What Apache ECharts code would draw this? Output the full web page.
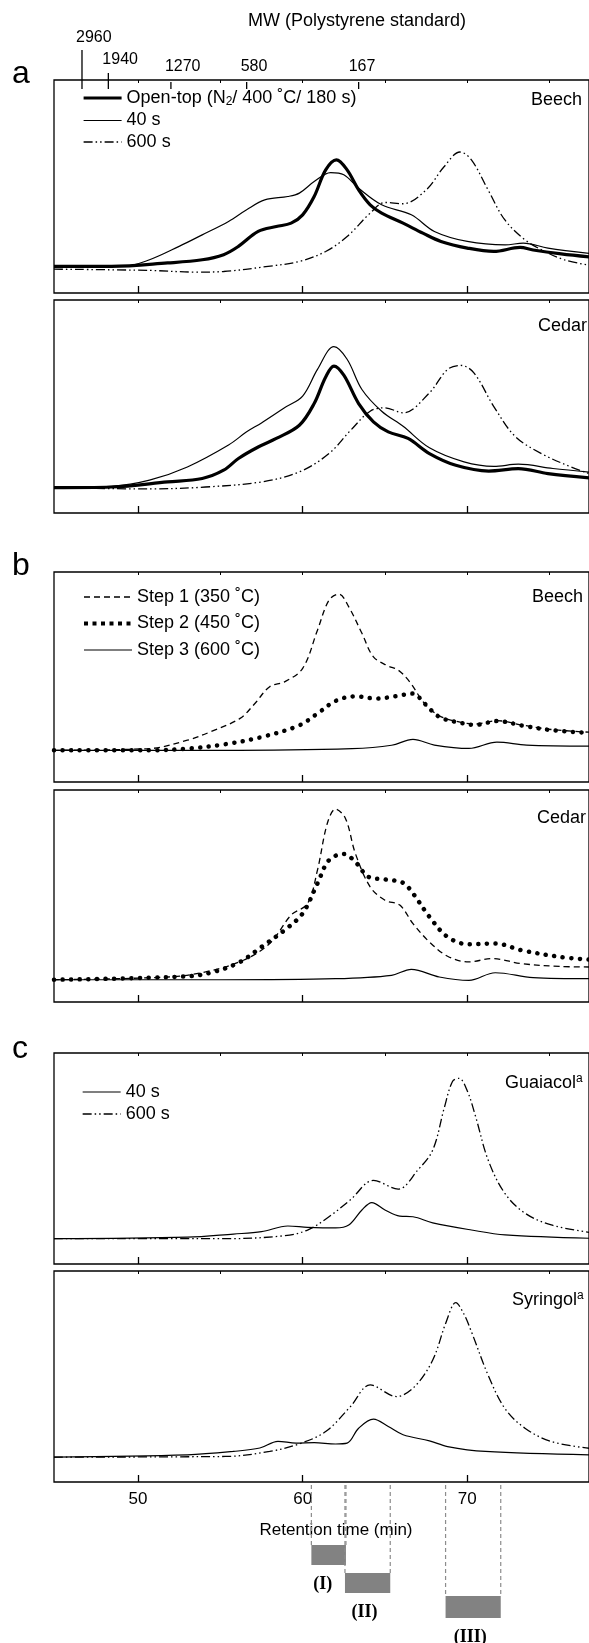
<!DOCTYPE html>
<html>
<head>
<meta charset="utf-8">
<script src="https://cdn.jsdelivr.net/npm/echarts@6/dist/echarts.min.js"></script>
<style>
  html, body { margin: 0; padding: 0; background: #fff; }
  #chart { width: 589px; height: 1643px; }
</style>
</head>
<body>
<div id="chart"></div>
<script>
// --- 1. Data (retention time in min, relative signal 0-100) ---

// top axis: MW calibration (polystyrene standard)
const mwLabels = ['2960', '1940', '1270', '580', '167'];
const mwTimes = [46.6, 48.2, 52.0, 56.6, 63.4];

// bottom axis ticks
const timeTicks = [50, 60, 70];
const minorTicks = [50, 55, 60, 65, 70, 75];

// (a) Beech
const aBeechOpen = [[44.9,12.5],[48.4,12.5],[51.8,14.1],[53.9,15.6],[55.2,18.0],[56.1,21.9],[57.3,28.9],[58.4,31.2],[59.3,32.8],[60.0,36.7],[60.7,45.3],[61.4,57.8],[62.05,62.5],[62.7,57.8],[63.4,48.4],[64.1,41.4],[64.8,37.5],[66.1,32.8],[67.3,28.1],[68.4,24.2],[70.0,21.1],[71.6,19.5],[73.2,21.4],[74.0,20.2],[75.7,18.4],[77.4,17.0]];
const aBeech40 = [[44.9,12.5],[49.1,12.5],[50.7,15.6],[52.5,21.9],[53.9,27.3],[55.5,33.6],[56.6,39.1],[57.7,43.7],[59.1,45.3],[59.8,46.9],[60.7,52.3],[61.7,56.5],[62.5,55.5],[63.4,49.2],[64.8,41.4],[66.6,36.7],[68.0,28.9],[70.0,24.2],[72.3,22.6],[73.4,23.4],[74.9,21.1],[77.4,18.6]];
const aBeech600 = [[44.9,11.2],[50.7,10.6],[53.6,9.8],[55.2,10.1],[57.9,12.5],[59.8,14.8],[61.4,19.5],[62.7,26.5],[64.1,37.5],[65.0,42.5],[66.1,41.9],[67.5,48.4],[68.6,59.4],[69.55,66.2],[70.25,62.5],[71.26,48.4],[72.27,34.4],[73.5,25.0],[74.7,19.5],[75.9,15.6],[77.4,13.0]];

// (a) Cedar
const aCedarOpen = [[44.9,11.9],[48.4,12.2],[51.8,14.6],[53.9,16.2],[55.2,20.1],[56.1,25.6],[57.3,31.0],[58.4,35.0],[59.8,41.2],[60.7,51.4],[61.4,63.9],[61.9,69.0],[62.5,64.7],[63.4,51.4],[64.3,42.8],[65.2,38.1],[66.4,35.0],[67.7,27.9],[69.3,22.4],[71.3,19.7],[73.1,20.8],[74.9,18.5],[77.4,16.5]];
const aCedar40 = [[44.9,11.9],[48.4,12.5],[50.7,15.4],[53.0,21.6],[55.5,31.9],[56.6,38.1],[57.5,42.3],[58.9,49.4],[60.0,54.9],[60.9,67.4],[61.9,78.1],[62.7,72.2],[63.6,58.0],[64.8,47.8],[66.1,40.7],[67.7,30.6],[69.8,24.0],[71.6,21.9],[73.1,22.9],[75.2,20.9],[77.4,19.2]];
const aCedar600 = [[44.9,11.9],[50.7,11.3],[54.1,12.2],[57.5,14.6],[59.8,19.3],[61.6,27.9],[62.9,38.7],[64.1,47.8],[65.0,49.4],[66.1,47.0],[67.7,56.4],[68.8,67.4],[69.6,69.3],[70.4,65.8],[71.6,50.1],[72.9,36.0],[74.5,27.9],[76.3,21.6],[77.4,18.5]];

// (b) Beech
const bBeechStep1 = [[44.9,15.1],[50.7,15.9],[53.0,19.9],[54.4,23.9],[56.2,30.3],[57.1,37.4],[58.0,45.4],[58.9,47.7],[60.0,54.1],[60.9,72.3],[61.6,86.6],[62.2,89.5],[62.8,83.4],[63.6,70.8],[64.3,59.6],[65.2,55.2],[65.8,53.3],[66.5,47.7],[67.4,37.4],[68.3,31.5],[69.5,28.6],[70.5,27.6],[71.8,29.2],[73.4,27.0],[75.1,25.0],[77.4,23.7]];
const bBeechStep2 = [[44.9,15.1],[50.7,15.1],[53.0,15.9],[55.3,18.0],[57.5,21.4],[59.8,27.0],[60.9,32.6],[62.0,38.6],[63.2,40.8],[64.5,39.7],[65.6,40.8],[66.7,42.1],[67.4,37.4],[68.3,31.0],[69.5,28.3],[70.5,27.2],[71.8,29.0],[73.4,26.8],[75.1,24.7],[77.4,23.4]];
const bBeechStep3 = [[44.9,15.1],[55.0,15.1],[63.0,15.9],[65.4,17.5],[66.7,20.3],[68.0,17.6],[70.1,16.0],[71.8,19.0],[73.6,17.6],[77.4,17.1]];

// (b) Cedar
const bCedarStep1 = [[44.9,10.5],[51.8,11.8],[54.1,14.2],[56.4,19.7],[58.0,27.6],[59.3,41.0],[60.3,46.5],[60.9,62.2],[61.5,84.3],[62.0,91.0],[62.6,86.6],[63.2,70.1],[64.1,54.3],[65.0,48.0],[65.9,45.7],[66.7,37.0],[67.7,28.3],[68.8,21.6],[70.1,18.9],[71.5,20.5],[73.3,18.1],[75.6,16.8],[77.4,16.5]];
const bCedarStep2 = [[44.9,10.5],[53.0,12.1],[54.6,14.2],[56.2,18.9],[57.5,26.0],[58.9,33.9],[60.0,41.8],[60.9,55.9],[61.6,66.9],[62.5,69.8],[63.2,66.1],[64.0,59.0],[65.0,57.8],[66.1,56.2],[66.7,51.2],[67.7,40.2],[68.8,30.7],[70.1,27.2],[71.7,27.6],[73.3,24.4],[75.6,21.3],[77.4,20.0]];
const bCedarStep3 = [[44.9,10.5],[55.0,10.5],[62.0,11.0],[65.4,12.6],[66.6,15.4],[68.3,11.8],[70.1,10.2],[71.7,13.8],[74.0,11.5],[77.4,11.0]];

// (c) Guaiacol
const cGuaiacol40 = [[44.9,12.0],[53.0,12.7],[55.8,14.2],[57.5,15.3],[59.1,18.0],[60.3,17.4],[62.0,17.1],[62.8,18.5],[63.6,25.6],[64.2,29.1],[65.0,25.6],[65.9,22.7],[66.7,22.4],[67.9,19.5],[70.25,16.1],[72.3,13.8],[77.4,12.2]];
const cGuaiacol600 = [[44.9,12.0],[55.3,12.0],[58.9,13.4],[60.3,16.1],[61.6,22.4],[62.9,30.4],[64.3,39.6],[65.8,35.5],[67.0,44.6],[67.9,54.0],[68.6,74.0],[69.1,86.5],[69.5,88.0],[70.0,82.0],[70.5,70.0],[71.26,49.4],[72.27,33.6],[73.5,24.1],[75.1,18.5],[77.4,15.0]];

// (c) Syringol
const cSyringol40 = [[44.9,11.8],[53.0,12.9],[55.8,14.5],[57.4,16.1],[58.5,19.3],[59.6,18.4],[60.7,18.7],[62.0,18.0],[62.7,18.4],[63.4,25.5],[64.3,29.8],[65.2,26.3],[66.1,22.4],[67.7,19.5],[68.8,16.8],[71.1,14.5],[77.4,12.9]];
const cSyringol600 = [[44.9,11.8],[55.3,12.1],[58.0,14.5],[59.8,18.1],[61.4,23.9],[62.9,35.7],[64.1,46.0],[65.7,40.5],[66.8,45.2],[67.9,57.8],[68.7,75.5],[69.3,85.0],[69.8,79.5],[70.25,71.2],[71.26,50.7],[72.27,35.0],[73.5,25.5],[75.1,19.2],[77.4,16.0]];

// fraction ranges under the time axis
const rangeNames = ['(I)', '(II)', '(III)'];
const rangeStart = [60.53, 62.57, 68.68];
const rangeEnd = [62.63, 65.32, 72.03];

// --- 2. Layout ---
const FONT = '"Liberation Sans", Arial, sans-serif';
const SERIF = '"Liberation Serif", "Times New Roman", serif';
const X_MIN = 44.9, X_MAX = 77.39;
const GRID_LEFT = 54, GRID_RIGHT = -2;
const panelTops = [80, 300, 572, 790, 1053, 1271];
const panelHeights = [213, 213, 210, 212, 211, 211];
const mwTickTop = [50, 73, 82, 82, 82];
const mwLabelY = [38, 60, 67, 67, 67];
const mwLabelDx = [-6, -6, -6, -6, -10];
const barOffset = [62, 90, 113];
const barHeight = [20, 20, 22];
const labelDx = [-6, -3, -3];

const OPEN = 'Open-top (N2/ 400 ˚C/ 180 s)';
const STEP1 = 'Step 1 (350 ˚C)', STEP2 = 'Step 2 (450 ˚C)', STEP3 = 'Step 3 (600 ˚C)';

const BOLD = { color: '#000', width: 3.2 };
const THIN = { color: '#000', width: 1.2 };
const DDOT = { color: '#000', width: 1.3, type: [9, 3, 1.5, 3, 1.5, 3] };
const DASH = { color: '#000', width: 1.3, type: [6, 4] };
const DOTS = { color: '#000', width: 4.5, type: [0.1, 8.5], cap: 'round' };
const DOTS_KEY = { color: '#000', width: 4, type: [4, 4.5], cap: 'butt' };

document.addEventListener('DOMContentLoaded', function () {
    const chart = echarts.init(document.getElementById('chart'), null, { renderer: 'canvas' });

    // grids: 6 chromatogram panels + one strip for the fraction bars
    const grids = panelTops.map((t, i) => ({
        left: GRID_LEFT, right: GRID_RIGHT, top: t, height: panelHeights[i],
        show: true, borderColor: '#000', borderWidth: 1.3, backgroundColor: 'transparent'
    }));
    grids.push({ left: GRID_LEFT, right: GRID_RIGHT, top: 1483, height: 160, show: false });

    const xAxes = [];
    const yAxes = [];
    panelTops.forEach((t, i) => {
        xAxes.push({
            type: 'value', gridIndex: i, min: X_MIN, max: X_MAX, position: 'bottom',
            axisLine: { show: false },
            axisTick: { show: true, inside: true, length: 7, customValues: timeTicks, lineStyle: { color: '#000', width: 1.3 } },
            axisLabel: { show: i === 5, customValues: timeTicks, fontSize: 17, fontFamily: FONT, color: '#000', margin: 9 },
            splitLine: { show: false }
        });
        yAxes.push({
            type: 'value', gridIndex: i, min: 0, max: 100,
            axisLine: { show: false }, axisTick: { show: false }, axisLabel: { show: false }, splitLine: { show: false }
        });
    });
    // small ticks along each panel's top border
    panelTops.forEach((t, i) => {
        xAxes.push({
            type: 'value', gridIndex: i, min: X_MIN, max: X_MAX, position: 'top',
            axisLine: { show: false },
            axisTick: { show: true, inside: true, length: 3, customValues: minorTicks, lineStyle: { color: '#000', width: 1 } },
            axisLabel: { show: false }, splitLine: { show: false }
        });
    });
    xAxes.push({ type: 'value', gridIndex: 6, min: X_MIN, max: X_MAX, show: false });
    yAxes.push({ type: 'value', gridIndex: 6, min: 0, max: 160, inverse: true, show: false });

    function line(name, panel, data, style) {
        return {
            name: name, type: 'line', xAxisIndex: panel, yAxisIndex: panel,
            data: data, showSymbol: false, symbol: 'none',
            smooth: 0.35,
            lineStyle: style, itemStyle: { color: '#000' },
            silent: true, animation: false
        };
    }

    const series = [
        line(OPEN, 0, aBeechOpen, BOLD),
        line('40 s', 0, aBeech40, THIN),
        line('600 s', 0, aBeech600, DDOT),
        line(OPEN, 1, aCedarOpen, BOLD),
        line('40 s', 1, aCedar40, THIN),
        line('600 s', 1, aCedar600, DDOT),
        line(STEP1, 2, bBeechStep1, DASH),
        line(STEP2, 2, bBeechStep2, DOTS),
        line(STEP3, 2, bBeechStep3, THIN),
        line(STEP1, 3, bCedarStep1, DASH),
        line(STEP2, 3, bCedarStep2, DOTS),
        line(STEP3, 3, bCedarStep3, THIN),
        line('40 s', 4, cGuaiacol40, THIN),
        line('600 s', 4, cGuaiacol600, DDOT),
        line('40 s', 5, cSyringol40, THIN),
        line('600 s', 5, cSyringol600, DDOT)
    ];

    // MW calibration marks above panel a
    series.push({
        type: 'custom', xAxisIndex: 0, yAxisIndex: 0, clip: false, silent: true, animation: false,
        data: mwTimes.map(t => [t, 100]),
        renderItem: function (params, api) {
            const i = params.dataIndex;
            const p = api.coord([api.value(0), api.value(1)]);
            return {
                type: 'group', children: [
                    { type: 'line', shape: { x1: p[0], y1: mwTickTop[i], x2: p[0], y2: p[1] + 9 }, style: { stroke: '#000', lineWidth: 1.3 } },
                    { type: 'text', style: { text: mwLabels[i], x: p[0] + mwLabelDx[i], y: mwLabelY[i], align: 'left', verticalAlign: 'middle', font: '16px ' + FONT, fill: '#000' } }
                ]
            };
        }
    });

    // fraction bars (I)-(III) under the time axis
    series.push({
        type: 'custom', xAxisIndex: 12, yAxisIndex: 6, clip: false, silent: true, animation: false,
        data: rangeStart.map((s, i) => [s, rangeEnd[i]]),
        renderItem: function (params, api) {
            const i = params.dataIndex;
            const a = api.coord([api.value(0), 0]);
            const b = api.coord([api.value(1), 0]);
            const top = a[1];
            const y = top + barOffset[i];
            const dash = { stroke: '#8c8c8c', lineWidth: 1.2, lineDash: [4, 3] };
            return {
                type: 'group', children: [
                    { type: 'line', shape: { x1: a[0], y1: top + 2, x2: a[0], y2: y }, style: dash },
                    { type: 'line', shape: { x1: b[0], y1: top + 2, x2: b[0], y2: y }, style: dash },
                    { type: 'rect', shape: { x: a[0], y: y, width: b[0] - a[0], height: barHeight[i] }, style: { fill: '#828282' } },
                    { type: 'text', style: { text: rangeNames[i], x: (a[0] + b[0]) / 2 + labelDx[i], y: y + barHeight[i] + 19, align: 'center', verticalAlign: 'middle', font: 'bold 18px ' + SERIF, fill: '#000' } }
                ]
            };
        }
    });

    const legendBase = {
        orient: 'vertical', left: 77, itemHeight: 18, selectedMode: false,
        itemStyle: { opacity: 0 },
        textStyle: { fontSize: 18, fontFamily: FONT, color: '#000',
            rich: { t: { fontSize: 18, fontFamily: FONT }, s: { fontSize: 12, fontFamily: FONT, padding: [8, 0, 0, 0] } } }
    };
    const legends = [
        Object.assign({}, legendBase, {
            top: 84, itemWidth: 38, itemGap: 3.5,
            data: [
                { name: OPEN, lineStyle: BOLD },
                { name: '40 s', lineStyle: THIN },
                { name: '600 s', lineStyle: DDOT }
            ],
            formatter: n => n === OPEN ? '{t|Open-top (N}{s|2}{t|/ 400 ˚C/ 180 s)}' : n
        }),
        Object.assign({}, legendBase, {
            top: 583, itemWidth: 48, itemGap: 8.5,
            data: [
                { name: STEP1, lineStyle: DASH },
                { name: STEP2, lineStyle: DOTS_KEY },
                { name: STEP3, lineStyle: THIN }
            ]
        }),
        Object.assign({}, legendBase, {
            top: 1078, itemWidth: 38, itemGap: 4,
            data: [
                { name: '40 s', lineStyle: THIN },
                { name: '600 s', lineStyle: DDOT }
            ]
        })
    ];

    function txt(text, x, y, align, size) {
        return { type: 'text', x: x, y: y, silent: true,
            style: { text: text, align: align, verticalAlign: 'middle', font: size + 'px ' + FONT, fill: '#000' } };
    }
    function supTxt(main, sup, x, y) {
        return { type: 'text', x: x, y: y, silent: true,
            style: { text: '{m|' + main + '}{p|' + sup + '}', align: 'left', verticalAlign: 'middle', fill: '#000',
                rich: { m: { fontSize: 18, fontFamily: FONT }, p: { fontSize: 12, fontFamily: FONT, padding: [0, 0, 8, 0] } } } };
    }

    const graphic = [
        txt('MW (Polystyrene standard)', 357, 21, 'center', 18),
        txt('a', 12, 74, 'left', 32),
        txt('b', 12, 566, 'left', 32),
        txt('c', 12, 1049, 'left', 32),
        txt('Beech', 582, 100, 'right', 18),
        txt('Cedar', 587, 326, 'right', 18),
        txt('Beech', 583, 597, 'right', 18),
        txt('Cedar', 586, 818, 'right', 18),
        supTxt('Guaiacol', 'a', 505, 1083),
        supTxt('Syringol', 'a', 512, 1300),
        txt('Retention time (min)', 336, 1530, 'center', 17)
    ];

    chart.setOption({
        animation: false,
        backgroundColor: '#fff',
        grid: grids,
        xAxis: xAxes,
        yAxis: yAxes,
        legend: legends,
        graphic: graphic,
        series: series
    });
});
</script>
</body>
</html>
